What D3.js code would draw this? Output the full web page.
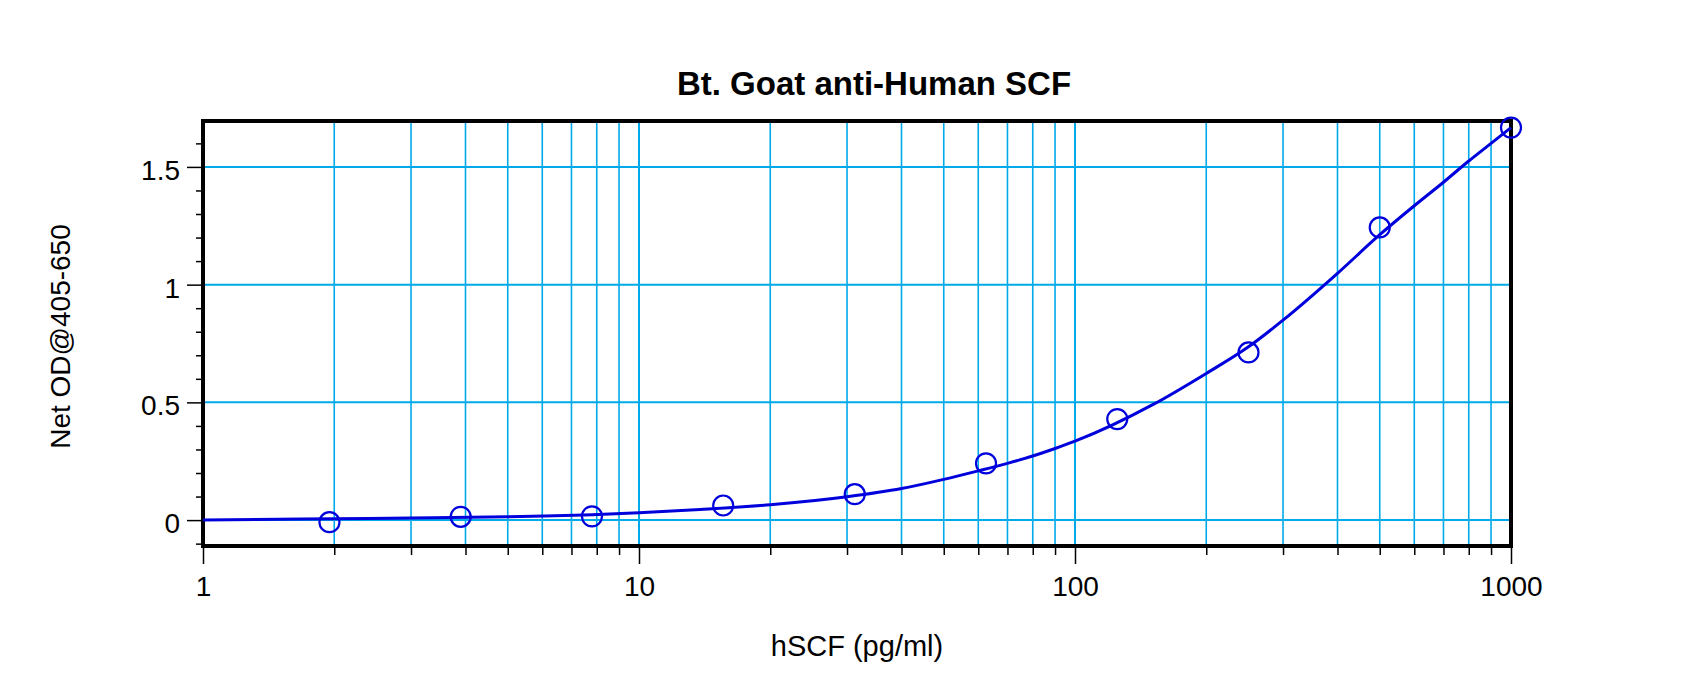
<!DOCTYPE html>
<html>
<head>
<meta charset="utf-8">
<script src="https://cdn.jsdelivr.net/npm/d3@7"></script>
<style>
  body { margin: 0; background: #fff; }
  text { font-family: "Liberation Sans", Arial, sans-serif; fill: #000; }
</style>
</head>
<body>
<div id="chart"></div>
<script>
// Measured standards (pg/ml) and net OD
const concentrations = [1.95, 3.9, 7.8, 15.6, 31.25, 62.5, 125, 250, 500, 1000];
const odValues = [-0.009, 0.014, 0.016, 0.062, 0.110, 0.241, 0.429, 0.712, 1.243, 1.667];

// Fitted curve
const curveX = [1, 2, 3, 5, 7.8, 10, 13.8, 20, 30, 40, 50, 60, 70, 80, 90, 100, 150, 200, 250, 300, 400, 500, 600, 700, 800, 900, 1000];
const curveY = [0.000, 0.006, 0.009, 0.014, 0.023, 0.031, 0.045, 0.065, 0.099, 0.134, 0.173, 0.209, 0.241, 0.272, 0.304, 0.335, 0.488, 0.623, 0.736, 0.849, 1.048, 1.212, 1.335, 1.435, 1.525, 1.600, 1.667];

// Axis ticks
const yMajorTicks = [0, 0.5, 1, 1.5];
const yMinorTicks = [-0.1, 0.1, 0.2, 0.3, 0.4, 0.6, 0.7, 0.8, 0.9, 1.1, 1.2, 1.3, 1.4, 1.6];
const xMajorTicks = [1, 10, 100, 1000];
const xMinorTicks = [2, 3, 4, 5, 6, 7, 8, 9, 20, 30, 40, 50, 60, 70, 80, 90, 200, 300, 400, 500, 600, 700, 800, 900];

const chartTitle = "Bt. Goat anti-Human SCF";
const xTitle = "hSCF (pg/ml)";
const yTitle = "Net OD@405-650";

const width = 1700, height = 699;
const plotLeft = 203, plotRight = 1511, plotTop = 121, plotBottom = 546;
const gridColor = "#00aaea";
const blue = "#0000dc";

const svg = d3.select("#chart")
    .append("svg")
    .attr("width", width)
    .attr("height", height);

const x = d3.scaleLog().domain([1, 1000]).range([plotLeft, plotRight]);
const y = d3.scaleLinear().domain([-0.11, 1.695]).range([plotBottom, plotTop]);

// grid
const grid = svg.append("g");
grid.selectAll("line.v")
    .data(xMinorTicks.concat([10, 100]))
    .enter().append("line")
    .attr("class", "v")
    .attr("x1", d => x(d)).attr("x2", d => x(d))
    .attr("y1", plotTop).attr("y2", plotBottom)
    .attr("stroke", gridColor)
    .attr("stroke-width", d => (d === 10 || d === 100) ? 2 : 1.6);

grid.selectAll("line.h")
    .data(yMajorTicks)
    .enter().append("line")
    .attr("class", "h")
    .attr("x1", plotLeft).attr("x2", plotRight)
    .attr("y1", d => y(d)).attr("y2", d => y(d))
    .attr("stroke", gridColor)
    .attr("stroke-width", 2);

// axes
function styleAxis(g) {
    g.select(".domain").remove();
    g.selectAll(".tick line").attr("stroke", "#000").attr("stroke-width", 1.5);
    g.selectAll("text")
        .style("font-family", "'Liberation Sans', Arial, sans-serif")
        .style("font-size", "28px")
        .attr("fill", "#000");
}

svg.append("g")
    .attr("transform", `translate(${plotLeft},0)`)
    .call(d3.axisLeft(y).tickValues(yMinorTicks).tickSize(7).tickFormat(""))
    .call(styleAxis);

svg.append("g")
    .attr("transform", `translate(${plotLeft},0)`)
    .call(d3.axisLeft(y).tickValues(yMajorTicks).tickSize(16).tickPadding(7).tickFormat(d3.format("")))
    .call(styleAxis)
    .call(g => g.selectAll("text").attr("dy", "0.45em"));

svg.append("g")
    .attr("transform", `translate(0,${plotBottom})`)
    .call(d3.axisBottom(x).tickValues(xMinorTicks).tickSize(9).tickFormat(""))
    .call(styleAxis);

svg.append("g")
    .attr("transform", `translate(0,${plotBottom})`)
    .call(d3.axisBottom(x).tickValues(xMajorTicks).tickSize(18).tickPadding(12).tickFormat(d3.format("")))
    .call(styleAxis);

// frame
svg.append("rect")
    .attr("x", plotLeft).attr("y", plotTop)
    .attr("width", plotRight - plotLeft).attr("height", plotBottom - plotTop)
    .attr("fill", "none")
    .attr("stroke", "#000")
    .attr("stroke-width", 4);

// fitted curve
const curvePoints = curveX.map((c, i) => [c, curveY[i]]);
const line = d3.line()
    .x(d => x(d[0]))
    .y(d => y(d[1]))
    .curve(d3.curveMonotoneX);

svg.append("path")
    .datum(curvePoints)
    .attr("d", line)
    .attr("fill", "none")
    .attr("stroke", blue)
    .attr("stroke-width", 3);

// data points
svg.selectAll("circle.pt")
    .data(concentrations.map((c, i) => [c, odValues[i]]))
    .enter().append("circle")
    .attr("class", "pt")
    .attr("cx", d => x(d[0]))
    .attr("cy", d => y(d[1]))
    .attr("r", 10)
    .attr("fill", "none")
    .attr("stroke", blue)
    .attr("stroke-width", 2.2);

// titles
svg.append("text")
    .attr("x", 874).attr("y", 95)
    .attr("text-anchor", "middle")
    .style("font-size", "33px")
    .style("font-weight", "bold")
    .text(chartTitle);

svg.append("text")
    .attr("x", (plotLeft + plotRight) / 2).attr("y", 656)
    .attr("text-anchor", "middle")
    .style("font-size", "29px")
    .text(xTitle);

svg.append("text")
    .attr("transform", `translate(70,${(plotTop + plotBottom) / 2 + 3}) rotate(-90)`)
    .attr("text-anchor", "middle")
    .style("font-size", "28px")
    .text(yTitle);
</script>
</body>
</html>
